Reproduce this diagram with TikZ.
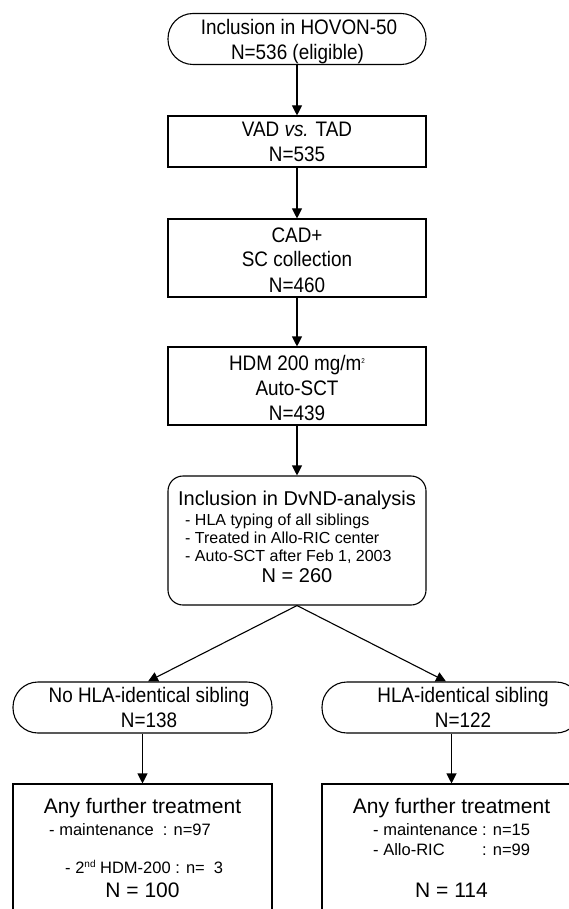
\documentclass[tikz,border=0pt]{standalone}
\usepackage{fontspec}
\setmainfont{Liberation Sans}
\newfontfamily\narrowfam[FakeStretch=0.9]{Liberation Sans}
\usetikzlibrary{arrows.meta}
\begin{document}
\begin{tikzpicture}[x=1pt,y=-1pt,
  shp/.style={draw, line width=1.1pt, inner sep=0pt, minimum width=258pt},
  pill/.style={shp, rounded corners=25pt, minimum height=51pt},
  sbox/.style={shp, rounded corners=0pt},
  rbox/.style={shp, rounded corners=15pt},
  arr/.style={line width=1.1pt, -{Triangle[length=10pt,width=10pt]}},
  nt/.style={anchor=base, inner sep=0pt, font=\narrowfam\fontsize{21}{25}\selectfont},
  big/.style={anchor=base, inner sep=0pt, font=\fontsize{20}{24}\selectfont},
  bigb/.style={anchor=base, inner sep=0pt, font=\fontsize{21}{25}\selectfont},
  sm/.style={anchor=base west, inner sep=0pt, font=\fontsize{16}{19}\selectfont},
  smb/.style={anchor=base west, inner sep=0pt, font=\fontsize{16.5}{20}\selectfont}
]
\useasboundingbox (0,0) rectangle (569,909);
\fill[white] (0,0) rectangle (569,909);
\clip (0,0) rectangle (569,909);

% shapes
\node[pill] (top) at (297,39) {};
\node[sbox, minimum height=51pt] (vad) at (297,141.5) {};
\node[sbox, minimum height=78pt] (cad) at (297,258) {};
\node[sbox, minimum height=78pt] (hdm) at (297,386) {};
\node[rbox, minimum height=129pt] (dvnd) at (297,540.5) {};
\node[pill, minimum width=259pt] (lp) at (142.5,707.5) {};
\node[pill, minimum width=259pt] (rp) at (451.5,707.5) {};
\node[sbox, minimum width=259pt, minimum height=150pt] (lb) at (142.5,859) {};
\node[sbox, minimum width=259pt, minimum height=150pt] (rb) at (451.5,859) {};

% texts
\node[nt] (t1a) at (299,35) {Inclusion in HOVON-50};
\node[nt] (t1b) at (297.5,60) {N=536 (eligible)};
\node[nt] (t2a) at (297,137) {VAD \textit{vs.} TAD};
\node[nt] (t2b) at (297,162) {N=535};
\node[nt] (t3a) at (297,242) {CAD+};
\node[nt] (t3b) at (297,266) {SC collection};
\node[nt] (t3c) at (297,292) {N=460};
\node[nt] (t4a) at (297,370) {HDM 200 mg/m\raisebox{7pt}{\fontsize{7}{7}\selectfont 2}};
\node[nt] (t4b) at (297,395) {Auto-SCT};
\node[nt] (t4c) at (297,420) {N=439};
\node[big] (t5a) at (297,505) {Inclusion in DvND-analysis};
\node[sm] (t5b) at (185,525) {- HLA typing of all siblings};
\node[sm] (t5c) at (185,543) {- Treated in Allo-RIC center};
\node[sm] (t5d) at (185,561) {- Auto-SCT after Feb 1, 2003};
\node[big] (t5e) at (297,582) {N = 260};
\node[nt] (t6a) at (149,702) {No HLA-identical sibling};
\node[nt] (t6b) at (149,727) {N=138};
\node[nt] (t7a) at (463,702) {HLA-identical sibling};
\node[nt] (t7b) at (463,727) {N=122};
\node[bigb] (t8a) at (142.5,813) {Any further treatment};
\node[smb] (t8b) at (49,835) {- maintenance \ : n=97};
\node[smb] (t8c) at (65,873) {- 2\raisebox{6pt}{\fontsize{10}{10}\selectfont nd} HDM-200 : n=\ \ 3};
\node[bigb] (t8d) at (142.5,897) {N = 100};
\node[bigb] (t9a) at (451.5,813) {Any further treatment};
\node[smb] (t9b) at (373,835) {- maintenance};
\node[smb] (t9c) at (373,855) {- Allo-RIC};
\node[smb] (t9d) at (482,835) {: n=15};
\node[smb] (t9e) at (482,855) {: n=99};
\node[bigb] (t9f) at (451.5,897) {N = 114};

% connectors
\draw[arr] (top) -- (vad);
\draw[arr] (vad) -- (cad);
\draw[arr] (cad) -- (hdm);
\draw[arr] (hdm) -- (dvnd);
\draw[arr] (dvnd.south) -- ([xshift=5.5pt]lp.north);
\draw[arr] (dvnd.south) -- ([xshift=-5.5pt]rp.north);
\draw[arr] (lp) -- (lb);
\draw[arr] (rp) -- (rb);
\end{tikzpicture}
\end{document}
